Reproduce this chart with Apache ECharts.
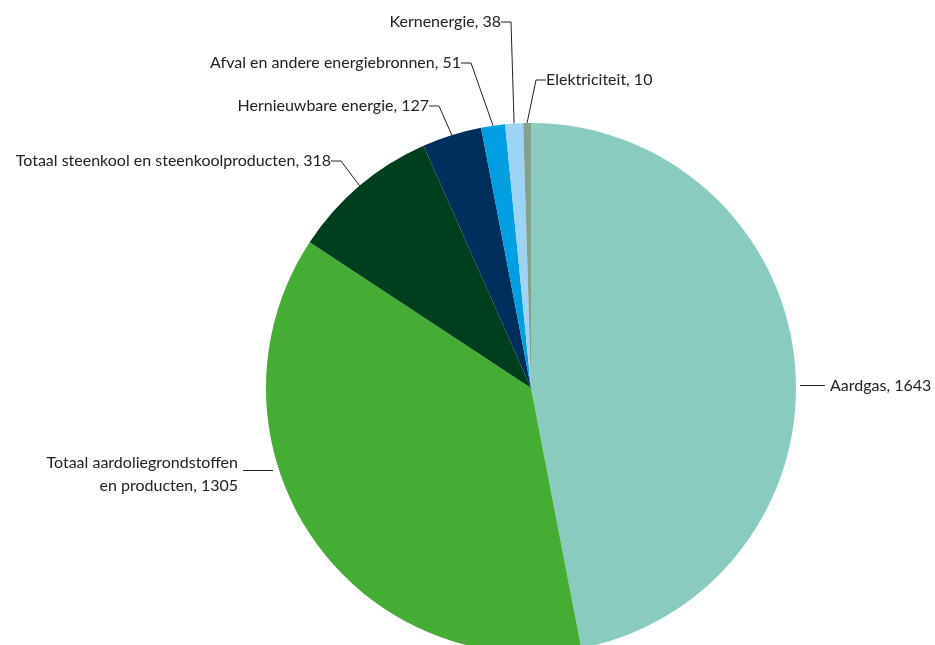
<!DOCTYPE html>
<html>
<head>
<meta charset="utf-8">
<script src="https://cdn.jsdelivr.net/npm/echarts@6/dist/echarts.min.js"></script>
<style>
  html, body { margin: 0; padding: 0; background: #fff; }
  #chart { width: 935px; height: 645px; }
</style>
</head>
<body>
<div id="chart"></div>
<script>
const categories = [
  'Aardgas',
  'Totaal aardoliegrondstoffen\nen producten',
  'Totaal steenkool en steenkoolproducten',
  'Hernieuwbare energie',
  'Afval en andere energiebronnen',
  'Kernenergie',
  'Elektriciteit',
]
const values = [1643, 1305, 318, 127, 51, 38, 10]
const colors = ['#8acbc0', '#45ac34', '#003f1e', '#002e5d', '#009fe3', '#9dd3f4', '#82a08a']

// where each label sits (x, y, align) -- hand placed like the original
const labelSpots = [
  [830, 386, 'left'],
  [238, 474, 'right'],
  [331, 161, 'right'],
  [429, 106, 'right'],
  [461, 63, 'right'],
  [501, 22, 'right'],
  [546, 80, 'left'],
]

const chart = echarts.init(document.getElementById('chart'), undefined, { renderer: 'canvas' })

chart.setOption({
  backgroundColor: '#fff',
  animation: false,
  series: [
    {
      type: 'pie',
      center: [531, 388],
      radius: 265,
      startAngle: 90,
      clockwise: true,
      minAngle: 1.7,
      avoidLabelOverlap: false,
      itemStyle: { borderWidth: 0 },
      label: {
        show: true,
        formatter: (p) => p.name + ', ' + p.value,
        fontFamily: 'Lato',
        fontSize: 16,
        lineHeight: 23,
        color: '#222',
      },
      labelLine: {
        show: true,
        length: 10,
        length2: 10,
        lineStyle: { color: '#222', width: 1 },
      },
      labelLayout: (p) => {
        const [x, y, align] = labelSpots[p.dataIndex]
        const out = { x, y, align, verticalAlign: 'middle' }
        // the two big slices get a flat leader line, as in the original
        if (p.dataIndex === 0) {
          out.labelLinePoints = [[x - 30, y - 0.5], [x - 15, y - 0.5], [x - 5, y - 0.5]]
        } else if (p.dataIndex === 1) {
          out.labelLinePoints = [[x + 35, y - 3.5], [x + 20, y - 3.5], [x + 5, y - 3.5]]
        }
        return out
      },
      data: categories.map((name, i) => ({
        name,
        value: values[i],
        itemStyle: { color: colors[i] },
      })),
    },
  ],
})
</script>
</body>
</html>
